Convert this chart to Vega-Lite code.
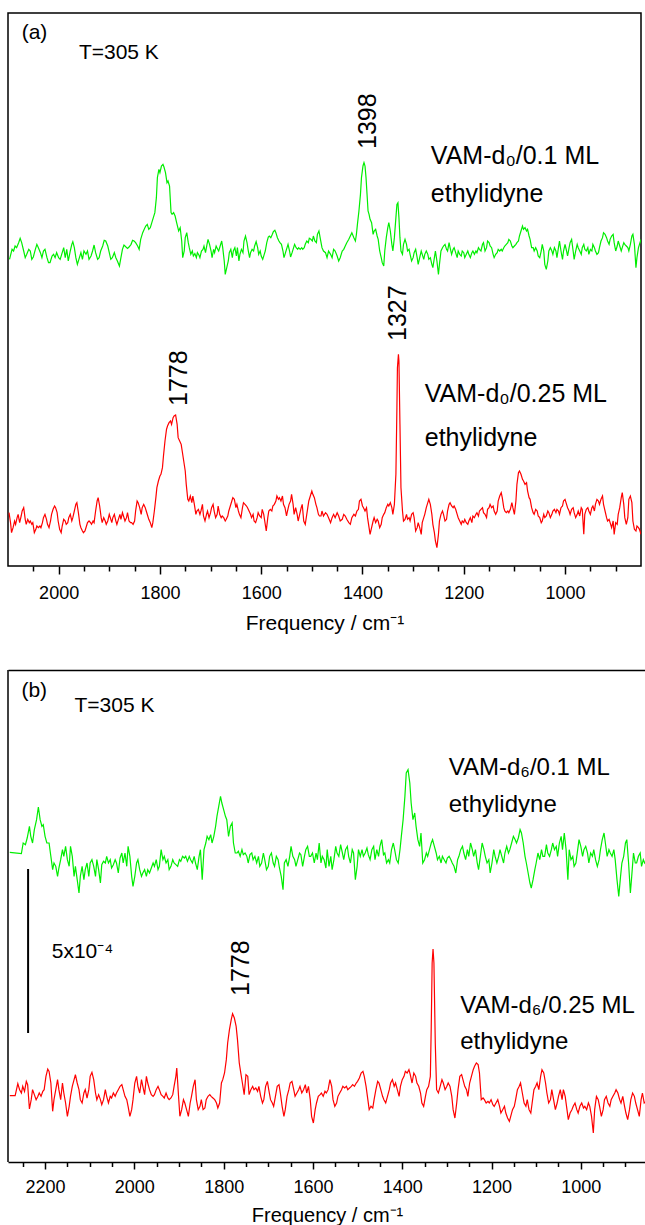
{
"$schema":"https://vega.github.io/schema/vega-lite/v6.json",
"padding":{"left":7,"top":12,"right":0,"bottom":0},
"config":{"view":{"stroke":"#000","strokeWidth":1.5},"text":{"font":"Liberation Sans","color":"#000"},"axis":{"labelFont":"Liberation Sans","titleFont":"Liberation Sans","labelColor":"#000","titleColor":"#000","tickColor":"#000","domainColor":"#000"}},
"datasets":{
"a":[
{"s":"g","f":2097,"v":920},{"s":"g","f":2092,"v":950},{"s":"g","f":2089,"v":945},{"s":"g","f":2086,"v":960},{"s":"g","f":2083,"v":955},{"s":"g","f":2079,"v":970},{"s":"g","f":2076,"v":983},{"s":"g","f":2073,"v":970},{"s":"g","f":2069,"v":945},{"s":"g","f":2066,"v":925},{"s":"g","f":2063,"v":935},{"s":"g","f":2059,"v":950},{"s":"g","f":2056,"v":945},{"s":"g","f":2053,"v":920},{"s":"g","f":2050,"v":927},{"s":"g","f":2046,"v":950},{"s":"g","f":2043,"v":965},{"s":"g","f":2040,"v":955},{"s":"g","f":2036,"v":940},{"s":"g","f":2033,"v":925},{"s":"g","f":2030,"v":945},{"s":"g","f":2027,"v":950},{"s":"g","f":2023,"v":925},{"s":"g","f":2020,"v":910},{"s":"g","f":2017,"v":910},{"s":"g","f":2013,"v":930},{"s":"g","f":2010,"v":935},{"s":"g","f":2007,"v":925},{"s":"g","f":2004,"v":940},{"s":"g","f":2000,"v":925},{"s":"g","f":1997,"v":920},{"s":"g","f":1994,"v":935},{"s":"g","f":1990,"v":955},{"s":"g","f":1987,"v":925},{"s":"g","f":1984,"v":950},{"s":"g","f":1981,"v":915},{"s":"g","f":1977,"v":945},{"s":"g","f":1974,"v":965},{"s":"g","f":1972,"v":973},{"s":"g","f":1969,"v":955},{"s":"g","f":1966,"v":925},{"s":"g","f":1963,"v":905},{"s":"g","f":1959,"v":925},{"s":"g","f":1956,"v":940},{"s":"g","f":1953,"v":920},{"s":"g","f":1950,"v":945},{"s":"g","f":1946,"v":935},{"s":"g","f":1943,"v":945},{"s":"g","f":1940,"v":920},{"s":"g","f":1936,"v":930},{"s":"g","f":1933,"v":945},{"s":"g","f":1930,"v":963},{"s":"g","f":1927,"v":940},{"s":"g","f":1923,"v":920},{"s":"g","f":1920,"v":925},{"s":"g","f":1917,"v":945},{"s":"g","f":1913,"v":960},{"s":"g","f":1910,"v":977},{"s":"g","f":1907,"v":975},{"s":"g","f":1903,"v":960},{"s":"g","f":1900,"v":940},{"s":"g","f":1897,"v":920},{"s":"g","f":1894,"v":925},{"s":"g","f":1890,"v":940},{"s":"g","f":1887,"v":925},{"s":"g","f":1884,"v":915},{"s":"g","f":1880,"v":900},{"s":"g","f":1877,"v":925},{"s":"g","f":1874,"v":950},{"s":"g","f":1871,"v":963},{"s":"g","f":1867,"v":957},{"s":"g","f":1864,"v":953},{"s":"g","f":1861,"v":957},{"s":"g","f":1857,"v":965},{"s":"g","f":1854,"v":977},{"s":"g","f":1851,"v":975},{"s":"g","f":1848,"v":970},{"s":"g","f":1844,"v":960},{"s":"g","f":1841,"v":950},{"s":"g","f":1838,"v":980},{"s":"g","f":1834,"v":1000},{"s":"g","f":1831,"v":1010},{"s":"g","f":1828,"v":1020},{"s":"g","f":1825,"v":1025},{"s":"g","f":1822,"v":1010},{"s":"g","f":1819,"v":1015},{"s":"g","f":1816,"v":1030},{"s":"g","f":1813,"v":1045},{"s":"g","f":1810,"v":1060},{"s":"g","f":1807,"v":1105},{"s":"g","f":1805,"v":1165},{"s":"g","f":1802,"v":1190},{"s":"g","f":1800,"v":1180},{"s":"g","f":1797,"v":1200},{"s":"g","f":1794,"v":1205},{"s":"g","f":1792,"v":1197},{"s":"g","f":1789,"v":1180},{"s":"g","f":1786,"v":1150},{"s":"g","f":1784,"v":1155},{"s":"g","f":1781,"v":1140},{"s":"g","f":1778,"v":1060},{"s":"g","f":1776,"v":1055},{"s":"g","f":1773,"v":1060},{"s":"g","f":1770,"v":1050},{"s":"g","f":1767,"v":1030},{"s":"g","f":1763,"v":1005},{"s":"g","f":1760,"v":1015},{"s":"g","f":1757,"v":975},{"s":"g","f":1755,"v":925},{"s":"g","f":1752,"v":945},{"s":"g","f":1750,"v":985},{"s":"g","f":1747,"v":1000},{"s":"g","f":1744,"v":970},{"s":"g","f":1742,"v":955},{"s":"g","f":1739,"v":935},{"s":"g","f":1736,"v":945},{"s":"g","f":1734,"v":930},{"s":"g","f":1731,"v":937},{"s":"g","f":1728,"v":925},{"s":"g","f":1726,"v":940},{"s":"g","f":1723,"v":933},{"s":"g","f":1721,"v":925},{"s":"g","f":1718,"v":945},{"s":"g","f":1715,"v":950},{"s":"g","f":1713,"v":960},{"s":"g","f":1710,"v":940},{"s":"g","f":1707,"v":965},{"s":"g","f":1705,"v":980},{"s":"g","f":1702,"v":965},{"s":"g","f":1699,"v":945},{"s":"g","f":1697,"v":925},{"s":"g","f":1694,"v":950},{"s":"g","f":1692,"v":940},{"s":"g","f":1689,"v":960},{"s":"g","f":1686,"v":950},{"s":"g","f":1684,"v":945},{"s":"g","f":1681,"v":960},{"s":"g","f":1678,"v":975},{"s":"g","f":1676,"v":955},{"s":"g","f":1673,"v":915},{"s":"g","f":1671,"v":875},{"s":"g","f":1668,"v":895},{"s":"g","f":1665,"v":915},{"s":"g","f":1663,"v":940},{"s":"g","f":1660,"v":950},{"s":"g","f":1657,"v":925},{"s":"g","f":1655,"v":945},{"s":"g","f":1652,"v":955},{"s":"g","f":1649,"v":930},{"s":"g","f":1647,"v":955},{"s":"g","f":1644,"v":915},{"s":"g","f":1642,"v":935},{"s":"g","f":1639,"v":950},{"s":"g","f":1636,"v":940},{"s":"g","f":1634,"v":975},{"s":"g","f":1631,"v":990},{"s":"g","f":1628,"v":970},{"s":"g","f":1626,"v":950},{"s":"g","f":1623,"v":925},{"s":"g","f":1621,"v":940},{"s":"g","f":1618,"v":950},{"s":"g","f":1615,"v":945},{"s":"g","f":1613,"v":960},{"s":"g","f":1610,"v":973},{"s":"g","f":1607,"v":955},{"s":"g","f":1605,"v":935},{"s":"g","f":1602,"v":945},{"s":"g","f":1600,"v":930},{"s":"g","f":1597,"v":920},{"s":"g","f":1594,"v":935},{"s":"g","f":1592,"v":945},{"s":"g","f":1589,"v":970},{"s":"g","f":1586,"v":987},{"s":"g","f":1584,"v":990},{"s":"g","f":1581,"v":985},{"s":"g","f":1578,"v":995},{"s":"g","f":1576,"v":1003},{"s":"g","f":1573,"v":1007},{"s":"g","f":1571,"v":1000},{"s":"g","f":1568,"v":985},{"s":"g","f":1565,"v":975},{"s":"g","f":1563,"v":970},{"s":"g","f":1560,"v":965},{"s":"g","f":1557,"v":945},{"s":"g","f":1555,"v":925},{"s":"g","f":1552,"v":940},{"s":"g","f":1549,"v":955},{"s":"g","f":1547,"v":965},{"s":"g","f":1544,"v":945},{"s":"g","f":1542,"v":927},{"s":"g","f":1539,"v":940},{"s":"g","f":1536,"v":955},{"s":"g","f":1534,"v":965},{"s":"g","f":1531,"v":955},{"s":"g","f":1528,"v":950},{"s":"g","f":1526,"v":955},{"s":"g","f":1523,"v":950},{"s":"g","f":1520,"v":955},{"s":"g","f":1518,"v":950},{"s":"g","f":1515,"v":955},{"s":"g","f":1513,"v":965},{"s":"g","f":1510,"v":975},{"s":"g","f":1507,"v":970},{"s":"g","f":1505,"v":983},{"s":"g","f":1502,"v":980},{"s":"g","f":1499,"v":975},{"s":"g","f":1497,"v":990},{"s":"g","f":1494,"v":975},{"s":"g","f":1491,"v":970},{"s":"g","f":1489,"v":995},{"s":"g","f":1486,"v":1005},{"s":"g","f":1483,"v":980},
{"s":"g","f":1480,"v":955},{"s":"g","f":1477,"v":945},{"s":"g","f":1473,"v":940},{"s":"g","f":1470,"v":925},{"s":"g","f":1467,"v":945},{"s":"g","f":1463,"v":935},{"s":"g","f":1460,"v":925},{"s":"g","f":1457,"v":950},{"s":"g","f":1454,"v":945},{"s":"g","f":1450,"v":930},{"s":"g","f":1447,"v":915},{"s":"g","f":1444,"v":925},{"s":"g","f":1440,"v":945},{"s":"g","f":1437,"v":950},{"s":"g","f":1434,"v":960},{"s":"g","f":1431,"v":970},{"s":"g","f":1427,"v":980},{"s":"g","f":1424,"v":990},{"s":"g","f":1421,"v":1000},{"s":"g","f":1417,"v":985},{"s":"g","f":1414,"v":975},{"s":"g","f":1412,"v":995},{"s":"g","f":1410,"v":1025},{"s":"g","f":1407,"v":1065},{"s":"g","f":1404,"v":1115},{"s":"g","f":1402,"v":1165},{"s":"g","f":1399,"v":1200},{"s":"g","f":1397,"v":1210},{"s":"g","f":1395,"v":1200},{"s":"g","f":1393,"v":1165},{"s":"g","f":1391,"v":1115},{"s":"g","f":1389,"v":1065},{"s":"g","f":1387,"v":1055},{"s":"g","f":1385,"v":1040},{"s":"g","f":1382,"v":1030},{"s":"g","f":1379,"v":995},{"s":"g","f":1377,"v":1005},{"s":"g","f":1374,"v":1010},{"s":"g","f":1371,"v":990},{"s":"g","f":1369,"v":980},{"s":"g","f":1366,"v":945},{"s":"g","f":1363,"v":925},{"s":"g","f":1361,"v":910},{"s":"g","f":1358,"v":900},{"s":"g","f":1356,"v":945},{"s":"g","f":1353,"v":985},{"s":"g","f":1350,"v":1015},{"s":"g","f":1348,"v":1030},{"s":"g","f":1345,"v":1005},{"s":"g","f":1342,"v":965},{"s":"g","f":1340,"v":945},{"s":"g","f":1337,"v":985},{"s":"g","f":1334,"v":1045},{"s":"g","f":1332,"v":1085},{"s":"g","f":1330,"v":1090},{"s":"g","f":1328,"v":1045},{"s":"g","f":1326,"v":985},{"s":"g","f":1324,"v":945},{"s":"g","f":1321,"v":935},{"s":"g","f":1319,"v":965},{"s":"g","f":1316,"v":980},{"s":"g","f":1313,"v":965},{"s":"g","f":1311,"v":945},{"s":"g","f":1308,"v":950},{"s":"g","f":1306,"v":935},{"s":"g","f":1303,"v":915},{"s":"g","f":1300,"v":925},{"s":"g","f":1298,"v":940},{"s":"g","f":1295,"v":950},{"s":"g","f":1292,"v":925},{"s":"g","f":1290,"v":905},{"s":"g","f":1287,"v":925},{"s":"g","f":1284,"v":945},{"s":"g","f":1282,"v":935},{"s":"g","f":1279,"v":920},{"s":"g","f":1277,"v":935},{"s":"g","f":1274,"v":945},{"s":"g","f":1271,"v":935},{"s":"g","f":1269,"v":920},{"s":"g","f":1266,"v":925},{"s":"g","f":1263,"v":905},{"s":"g","f":1261,"v":895},{"s":"g","f":1258,"v":925},{"s":"g","f":1256,"v":945},{"s":"g","f":1253,"v":915},{"s":"g","f":1250,"v":875},{"s":"g","f":1248,"v":905},{"s":"g","f":1245,"v":945},{"s":"g","f":1242,"v":955},{"s":"g","f":1240,"v":960},{"s":"g","f":1237,"v":965},{"s":"g","f":1234,"v":950},{"s":"g","f":1232,"v":945},{"s":"g","f":1229,"v":970},{"s":"g","f":1227,"v":955},{"s":"g","f":1224,"v":935},{"s":"g","f":1221,"v":950},{"s":"g","f":1219,"v":955},{"s":"g","f":1216,"v":940},{"s":"g","f":1213,"v":925},{"s":"g","f":1211,"v":945},{"s":"g","f":1208,"v":935},{"s":"g","f":1205,"v":930},{"s":"g","f":1203,"v":945},{"s":"g","f":1200,"v":940},{"s":"g","f":1198,"v":925},{"s":"g","f":1195,"v":935},{"s":"g","f":1192,"v":945},{"s":"g","f":1190,"v":935},{"s":"g","f":1187,"v":925},{"s":"g","f":1184,"v":940},{"s":"g","f":1182,"v":945},{"s":"g","f":1179,"v":935},{"s":"g","f":1176,"v":945},{"s":"g","f":1174,"v":940},{"s":"g","f":1171,"v":955},{"s":"g","f":1169,"v":950},{"s":"g","f":1166,"v":945},{"s":"g","f":1163,"v":965},{"s":"g","f":1161,"v":970},{"s":"g","f":1158,"v":945},{"s":"g","f":1155,"v":955},{"s":"g","f":1153,"v":975},{"s":"g","f":1150,"v":970},{"s":"g","f":1148,"v":960},{"s":"g","f":1145,"v":955},{"s":"g","f":1142,"v":935},{"s":"g","f":1140,"v":925},{"s":"g","f":1137,"v":935},{"s":"g","f":1134,"v":940},{"s":"g","f":1132,"v":950},{"s":"g","f":1129,"v":945},{"s":"g","f":1126,"v":950},{"s":"g","f":1124,"v":945},{"s":"g","f":1121,"v":955},{"s":"g","f":1119,"v":960},{"s":"g","f":1116,"v":965},{"s":"g","f":1113,"v":970},{"s":"g","f":1111,"v":980},{"s":"g","f":1108,"v":975},{"s":"g","f":1105,"v":960},{"s":"g","f":1103,"v":955},{"s":"g","f":1100,"v":960},{"s":"g","f":1097,"v":965},{"s":"g","f":1095,"v":970},{"s":"g","f":1092,"v":975},{"s":"g","f":1090,"v":990},{"s":"g","f":1087,"v":1005},{"s":"g","f":1084,"v":1020},{"s":"g","f":1082,"v":1010},{"s":"g","f":1079,"v":1015},{"s":"g","f":1076,"v":1005},{"s":"g","f":1074,"v":1010},{"s":"g","f":1071,"v":990},{"s":"g","f":1069,"v":980},{"s":"g","f":1066,"v":955},{"s":"g","f":1063,"v":955},{"s":"g","f":1061,"v":945},{"s":"g","f":1058,"v":955},{"s":"g","f":1055,"v":945},{"s":"g","f":1053,"v":930},{"s":"g","f":1050,"v":925},{"s":"g","f":1047,"v":945},{"s":"g","f":1045,"v":965},{"s":"g","f":1042,"v":945},{"s":"g","f":1040,"v":905},{"s":"g","f":1037,"v":890},{"s":"g","f":1034,"v":915},{"s":"g","f":1032,"v":945},{"s":"g","f":1029,"v":955},{"s":"g","f":1026,"v":945},{"s":"g","f":1024,"v":935},{"s":"g","f":1021,"v":955},{"s":"g","f":1018,"v":945},{"s":"g","f":1016,"v":925},{"s":"g","f":1013,"v":955},{"s":"g","f":1011,"v":975},{"s":"g","f":1008,"v":945},{"s":"g","f":1005,"v":920},{"s":"g","f":1003,"v":945},{"s":"g","f":1000,"v":965},{"s":"g","f":997,"v":945},{"s":"g","f":995,"v":930},{"s":"g","f":992,"v":955},{"s":"g","f":990,"v":970},{"s":"g","f":987,"v":980},{"s":"g","f":984,"v":945},{"s":"g","f":982,"v":920},{"s":"g","f":979,"v":945},{"s":"g","f":976,"v":965},{"s":"g","f":974,"v":955},{"s":"g","f":971,"v":945},{"s":"g","f":968,"v":935},{"s":"g","f":966,"v":955},{"s":"g","f":963,"v":965},{"s":"g","f":961,"v":950},{"s":"g","f":958,"v":945},{"s":"g","f":955,"v":955},{"s":"g","f":953,"v":935},{"s":"g","f":950,"v":950},{"s":"g","f":947,"v":945},{"s":"g","f":945,"v":965},{"s":"g","f":942,"v":955},{"s":"g","f":940,"v":945},{"s":"g","f":937,"v":935},{"s":"g","f":934,"v":940},{"s":"g","f":932,"v":955},{"s":"g","f":929,"v":975},{"s":"g","f":926,"v":985},{"s":"g","f":924,"v":1000},{"s":"g","f":921,"v":995},{"s":"g","f":918,"v":985},{"s":"g","f":916,"v":975},{"s":"g","f":913,"v":965},{"s":"g","f":911,"v":980},{"s":"g","f":908,"v":990},{"s":"g","f":905,"v":995},{"s":"g","f":903,"v":970},{"s":"g","f":900,"v":945},{"s":"g","f":897,"v":960},{"s":"g","f":895,"v":975},{"s":"g","f":892,"v":960},{"s":"g","f":889,"v":945},{"s":"g","f":887,"v":955},{"s":"g","f":884,"v":970},{"s":"g","f":882,"v":965},{"s":"g","f":879,"v":960},{"s":"g","f":876,"v":955},{"s":"g","f":874,"v":945},{"s":"g","f":871,"v":965},{"s":"g","f":868,"v":990},{"s":"g","f":866,"v":995},{"s":"g","f":863,"v":965},{"s":"g","f":860,"v":895},{"s":"g","f":858,"v":925},{"s":"g","f":855,"v":955},{"s":"g","f":853,"v":965},{"s":"g","f":850,"v":980},
{"s":"r","f":2098,"v":160},{"s":"r","f":2095,"v":130},{"s":"r","f":2093,"v":100},{"s":"r","f":2090,"v":115},{"s":"r","f":2087,"v":135},{"s":"r","f":2085,"v":125},{"s":"r","f":2082,"v":145},{"s":"r","f":2080,"v":155},{"s":"r","f":2077,"v":130},{"s":"r","f":2074,"v":150},{"s":"r","f":2072,"v":165},{"s":"r","f":2069,"v":175},{"s":"r","f":2066,"v":140},{"s":"r","f":2064,"v":125},{"s":"r","f":2061,"v":140},{"s":"r","f":2058,"v":130},{"s":"r","f":2056,"v":135},{"s":"r","f":2053,"v":125},{"s":"r","f":2051,"v":130},{"s":"r","f":2048,"v":100},{"s":"r","f":2045,"v":110},{"s":"r","f":2043,"v":120},{"s":"r","f":2040,"v":115},{"s":"r","f":2037,"v":120},{"s":"r","f":2035,"v":115},{"s":"r","f":2032,"v":130},{"s":"r","f":2030,"v":145},{"s":"r","f":2027,"v":155},{"s":"r","f":2024,"v":140},{"s":"r","f":2022,"v":125},{"s":"r","f":2019,"v":115},{"s":"r","f":2016,"v":135},{"s":"r","f":2014,"v":155},{"s":"r","f":2011,"v":170},{"s":"r","f":2008,"v":180},{"s":"r","f":2006,"v":175},{"s":"r","f":2003,"v":160},{"s":"r","f":2001,"v":135},{"s":"r","f":1998,"v":110},{"s":"r","f":1995,"v":100},{"s":"r","f":1993,"v":120},{"s":"r","f":1990,"v":140},{"s":"r","f":1987,"v":135},{"s":"r","f":1985,"v":125},{"s":"r","f":1982,"v":130},{"s":"r","f":1980,"v":145},{"s":"r","f":1977,"v":155},{"s":"r","f":1974,"v":135},{"s":"r","f":1972,"v":145},{"s":"r","f":1969,"v":165},{"s":"r","f":1966,"v":185},{"s":"r","f":1964,"v":190},{"s":"r","f":1961,"v":160},{"s":"r","f":1958,"v":125},{"s":"r","f":1956,"v":115},{"s":"r","f":1953,"v":105},{"s":"r","f":1951,"v":100},{"s":"r","f":1948,"v":105},{"s":"r","f":1945,"v":120},{"s":"r","f":1943,"v":130},{"s":"r","f":1940,"v":135},{"s":"r","f":1937,"v":130},{"s":"r","f":1935,"v":125},{"s":"r","f":1932,"v":135},{"s":"r","f":1930,"v":130},{"s":"r","f":1927,"v":165},{"s":"r","f":1924,"v":195},{"s":"r","f":1922,"v":205},{"s":"r","f":1919,"v":180},{"s":"r","f":1916,"v":145},{"s":"r","f":1914,"v":130},{"s":"r","f":1911,"v":145},{"s":"r","f":1908,"v":135},{"s":"r","f":1906,"v":125},{"s":"r","f":1903,"v":135},{"s":"r","f":1900,"v":155},{"s":"r","f":1898,"v":145},{"s":"r","f":1895,"v":130},{"s":"r","f":1893,"v":145},{"s":"r","f":1890,"v":155},{"s":"r","f":1887,"v":135},{"s":"r","f":1885,"v":125},{"s":"r","f":1882,"v":140},{"s":"r","f":1879,"v":155},{"s":"r","f":1877,"v":140},{"s":"r","f":1874,"v":160},{"s":"r","f":1872,"v":150},{"s":"r","f":1869,"v":135},{"s":"r","f":1866,"v":145},{"s":"r","f":1864,"v":160},{"s":"r","f":1861,"v":135},{"s":"r","f":1858,"v":130},{"s":"r","f":1856,"v":130},{"s":"r","f":1853,"v":125},{"s":"r","f":1850,"v":135},{"s":"r","f":1848,"v":165},{"s":"r","f":1845,"v":195},{"s":"r","f":1843,"v":190},{"s":"r","f":1840,"v":175},{"s":"r","f":1837,"v":155},{"s":"r","f":1835,"v":175},{"s":"r","f":1832,"v":185},{"s":"r","f":1829,"v":175},{"s":"r","f":1827,"v":165},{"s":"r","f":1824,"v":150},{"s":"r","f":1822,"v":140},{"s":"r","f":1819,"v":130},{"s":"r","f":1816,"v":115},{"s":"r","f":1814,"v":130},{"s":"r","f":1811,"v":165},{"s":"r","f":1808,"v":205},{"s":"r","f":1806,"v":235},{"s":"r","f":1803,"v":255},{"s":"r","f":1800,"v":270},{"s":"r","f":1798,"v":275},{"s":"r","f":1795,"v":295},{"s":"r","f":1793,"v":330},{"s":"r","f":1790,"v":375},{"s":"r","f":1787,"v":410},{"s":"r","f":1785,"v":420},{"s":"r","f":1782,"v":430},{"s":"r","f":1779,"v":435},{"s":"r","f":1777,"v":425},{"s":"r","f":1774,"v":445},{"s":"r","f":1772,"v":450},{"s":"r","f":1769,"v":453},{"s":"r","f":1766,"v":425},{"s":"r","f":1764,"v":385},{"s":"r","f":1761,"v":375},{"s":"r","f":1758,"v":365},{"s":"r","f":1756,"v":345},{"s":"r","f":1753,"v":315},{"s":"r","f":1750,"v":285},{"s":"r","f":1748,"v":245},{"s":"r","f":1745,"v":200},{"s":"r","f":1743,"v":195},{"s":"r","f":1740,"v":210},{"s":"r","f":1737,"v":190},{"s":"r","f":1735,"v":210},{"s":"r","f":1732,"v":185},{"s":"r","f":1729,"v":155},{"s":"r","f":1727,"v":165},{"s":"r","f":1724,"v":170},{"s":"r","f":1721,"v":155},{"s":"r","f":1719,"v":165},{"s":"r","f":1716,"v":185},{"s":"r","f":1714,"v":150},{"s":"r","f":1711,"v":135},{"s":"r","f":1708,"v":155},{"s":"r","f":1706,"v":165},{"s":"r","f":1703,"v":145},{"s":"r","f":1700,"v":160},{"s":"r","f":1698,"v":175},{"s":"r","f":1695,"v":185},{"s":"r","f":1693,"v":165},{"s":"r","f":1690,"v":145},{"s":"r","f":1687,"v":155},{"s":"r","f":1685,"v":180},{"s":"r","f":1682,"v":155},{"s":"r","f":1679,"v":145},{"s":"r","f":1677,"v":150},{"s":"r","f":1674,"v":145},{"s":"r","f":1671,"v":135},{"s":"r","f":1669,"v":140},{"s":"r","f":1666,"v":150},{"s":"r","f":1664,"v":165},{"s":"r","f":1661,"v":180},{"s":"r","f":1658,"v":195},{"s":"r","f":1656,"v":205},{"s":"r","f":1653,"v":200},{"s":"r","f":1650,"v":175},{"s":"r","f":1648,"v":185},{"s":"r","f":1645,"v":165},{"s":"r","f":1643,"v":155},{"s":"r","f":1640,"v":145},{"s":"r","f":1637,"v":175},{"s":"r","f":1635,"v":190},{"s":"r","f":1632,"v":185},{"s":"r","f":1629,"v":180},{"s":"r","f":1627,"v":175},{"s":"r","f":1624,"v":165},{"s":"r","f":1621,"v":155},{"s":"r","f":1619,"v":145},{"s":"r","f":1616,"v":155},{"s":"r","f":1614,"v":135},{"s":"r","f":1611,"v":130},{"s":"r","f":1608,"v":145},{"s":"r","f":1606,"v":160},{"s":"r","f":1603,"v":150},{"s":"r","f":1600,"v":145},{"s":"r","f":1598,"v":170},{"s":"r","f":1595,"v":155},{"s":"r","f":1592,"v":125},{"s":"r","f":1590,"v":105},{"s":"r","f":1587,"v":145},{"s":"r","f":1585,"v":165},{"s":"r","f":1582,"v":170},{"s":"r","f":1579,"v":165},{"s":"r","f":1577,"v":180},{"s":"r","f":1574,"v":185},{"s":"r","f":1571,"v":195},{"s":"r","f":1569,"v":210},{"s":"r","f":1566,"v":200},{"s":"r","f":1564,"v":205},{"s":"r","f":1561,"v":195},{"s":"r","f":1558,"v":210},{"s":"r","f":1556,"v":185},{"s":"r","f":1553,"v":175},{"s":"r","f":1550,"v":150},{"s":"r","f":1548,"v":165},{"s":"r","f":1545,"v":185},{"s":"r","f":1542,"v":195},{"s":"r","f":1540,"v":215},{"s":"r","f":1537,"v":185},{"s":"r","f":1535,"v":155},{"s":"r","f":1532,"v":175},{"s":"r","f":1529,"v":155},{"s":"r","f":1527,"v":135},{"s":"r","f":1524,"v":155},{"s":"r","f":1521,"v":175},{"s":"r","f":1519,"v":185},{"s":"r","f":1516,"v":135},{"s":"r","f":1513,"v":125},{"s":"r","f":1511,"v":145},{"s":"r","f":1508,"v":175},{"s":"r","f":1506,"v":195},{"s":"r","f":1503,"v":210},{"s":"r","f":1500,"v":225},{"s":"r","f":1498,"v":215},{"s":"r","f":1495,"v":205},{"s":"r","f":1492,"v":185},{"s":"r","f":1490,"v":175},{"s":"r","f":1487,"v":155},{"s":"r","f":1485,"v":150},{"s":"r","f":1482,"v":150},
{"s":"r","f":1480,"v":165},{"s":"r","f":1477,"v":150},{"s":"r","f":1473,"v":160},{"s":"r","f":1470,"v":155},{"s":"r","f":1467,"v":145},{"s":"r","f":1463,"v":130},{"s":"r","f":1460,"v":145},{"s":"r","f":1457,"v":155},{"s":"r","f":1454,"v":145},{"s":"r","f":1450,"v":160},{"s":"r","f":1447,"v":150},{"s":"r","f":1444,"v":135},{"s":"r","f":1440,"v":140},{"s":"r","f":1437,"v":155},{"s":"r","f":1434,"v":150},{"s":"r","f":1431,"v":140},{"s":"r","f":1427,"v":130},{"s":"r","f":1424,"v":125},{"s":"r","f":1421,"v":145},{"s":"r","f":1417,"v":155},{"s":"r","f":1414,"v":150},{"s":"r","f":1411,"v":165},{"s":"r","f":1408,"v":170},{"s":"r","f":1406,"v":195},{"s":"r","f":1403,"v":200},{"s":"r","f":1400,"v":180},{"s":"r","f":1398,"v":175},{"s":"r","f":1395,"v":165},{"s":"r","f":1392,"v":175},{"s":"r","f":1390,"v":145},{"s":"r","f":1387,"v":115},{"s":"r","f":1385,"v":95},{"s":"r","f":1382,"v":115},{"s":"r","f":1379,"v":135},{"s":"r","f":1377,"v":145},{"s":"r","f":1374,"v":130},{"s":"r","f":1371,"v":140},{"s":"r","f":1369,"v":135},{"s":"r","f":1366,"v":115},{"s":"r","f":1363,"v":125},{"s":"r","f":1361,"v":145},{"s":"r","f":1358,"v":155},{"s":"r","f":1356,"v":160},{"s":"r","f":1353,"v":175},{"s":"r","f":1350,"v":185},{"s":"r","f":1348,"v":180},{"s":"r","f":1345,"v":190},{"s":"r","f":1342,"v":175},{"s":"r","f":1340,"v":155},{"s":"r","f":1337,"v":185},{"s":"r","f":1334,"v":275},{"s":"r","f":1332,"v":475},{"s":"r","f":1331,"v":595},{"s":"r","f":1329,"v":635},{"s":"r","f":1328,"v":615},{"s":"r","f":1326,"v":425},{"s":"r","f":1324,"v":235},{"s":"r","f":1321,"v":165},{"s":"r","f":1319,"v":135},{"s":"r","f":1316,"v":140},{"s":"r","f":1313,"v":155},{"s":"r","f":1311,"v":140},{"s":"r","f":1308,"v":145},{"s":"r","f":1306,"v":135},{"s":"r","f":1303,"v":155},{"s":"r","f":1300,"v":160},{"s":"r","f":1298,"v":145},{"s":"r","f":1295,"v":105},{"s":"r","f":1292,"v":115},{"s":"r","f":1290,"v":130},{"s":"r","f":1287,"v":115},{"s":"r","f":1284,"v":95},{"s":"r","f":1282,"v":130},{"s":"r","f":1279,"v":145},{"s":"r","f":1277,"v":155},{"s":"r","f":1274,"v":175},{"s":"r","f":1271,"v":190},{"s":"r","f":1269,"v":200},{"s":"r","f":1266,"v":185},{"s":"r","f":1263,"v":155},{"s":"r","f":1261,"v":125},{"s":"r","f":1258,"v":100},{"s":"r","f":1256,"v":75},{"s":"r","f":1253,"v":55},{"s":"r","f":1250,"v":95},{"s":"r","f":1248,"v":135},{"s":"r","f":1245,"v":155},{"s":"r","f":1242,"v":165},{"s":"r","f":1240,"v":155},{"s":"r","f":1237,"v":135},{"s":"r","f":1234,"v":140},{"s":"r","f":1232,"v":165},{"s":"r","f":1229,"v":185},{"s":"r","f":1227,"v":190},{"s":"r","f":1224,"v":180},{"s":"r","f":1221,"v":175},{"s":"r","f":1219,"v":180},{"s":"r","f":1216,"v":170},{"s":"r","f":1213,"v":155},{"s":"r","f":1211,"v":145},{"s":"r","f":1208,"v":135},{"s":"r","f":1205,"v":125},{"s":"r","f":1203,"v":135},{"s":"r","f":1200,"v":130},{"s":"r","f":1198,"v":140},{"s":"r","f":1195,"v":130},{"s":"r","f":1192,"v":125},{"s":"r","f":1190,"v":135},{"s":"r","f":1187,"v":145},{"s":"r","f":1184,"v":130},{"s":"r","f":1182,"v":150},{"s":"r","f":1179,"v":145},{"s":"r","f":1176,"v":155},{"s":"r","f":1174,"v":160},{"s":"r","f":1171,"v":150},{"s":"r","f":1169,"v":165},{"s":"r","f":1166,"v":170},{"s":"r","f":1163,"v":175},{"s":"r","f":1161,"v":160},{"s":"r","f":1158,"v":155},{"s":"r","f":1155,"v":145},{"s":"r","f":1153,"v":170},{"s":"r","f":1150,"v":175},{"s":"r","f":1148,"v":185},{"s":"r","f":1145,"v":175},{"s":"r","f":1142,"v":180},{"s":"r","f":1140,"v":165},{"s":"r","f":1137,"v":155},{"s":"r","f":1134,"v":165},{"s":"r","f":1132,"v":195},{"s":"r","f":1129,"v":210},{"s":"r","f":1126,"v":220},{"s":"r","f":1124,"v":205},{"s":"r","f":1121,"v":175},{"s":"r","f":1119,"v":165},{"s":"r","f":1116,"v":160},{"s":"r","f":1113,"v":165},{"s":"r","f":1111,"v":160},{"s":"r","f":1108,"v":170},{"s":"r","f":1105,"v":190},{"s":"r","f":1103,"v":175},{"s":"r","f":1100,"v":155},{"s":"r","f":1097,"v":195},{"s":"r","f":1095,"v":245},{"s":"r","f":1092,"v":280},{"s":"r","f":1090,"v":285},{"s":"r","f":1087,"v":275},{"s":"r","f":1084,"v":260},{"s":"r","f":1082,"v":255},{"s":"r","f":1079,"v":245},{"s":"r","f":1076,"v":250},{"s":"r","f":1074,"v":225},{"s":"r","f":1071,"v":205},{"s":"r","f":1069,"v":200},{"s":"r","f":1066,"v":175},{"s":"r","f":1063,"v":160},{"s":"r","f":1061,"v":155},{"s":"r","f":1058,"v":170},{"s":"r","f":1055,"v":165},{"s":"r","f":1053,"v":150},{"s":"r","f":1050,"v":145},{"s":"r","f":1047,"v":130},{"s":"r","f":1045,"v":135},{"s":"r","f":1042,"v":155},{"s":"r","f":1040,"v":145},{"s":"r","f":1037,"v":150},{"s":"r","f":1034,"v":165},{"s":"r","f":1032,"v":160},{"s":"r","f":1029,"v":145},{"s":"r","f":1026,"v":155},{"s":"r","f":1024,"v":165},{"s":"r","f":1021,"v":170},{"s":"r","f":1018,"v":160},{"s":"r","f":1016,"v":170},{"s":"r","f":1013,"v":165},{"s":"r","f":1011,"v":155},{"s":"r","f":1008,"v":175},{"s":"r","f":1005,"v":180},{"s":"r","f":1003,"v":195},{"s":"r","f":1000,"v":200},{"s":"r","f":997,"v":185},{"s":"r","f":995,"v":175},{"s":"r","f":992,"v":165},{"s":"r","f":990,"v":155},{"s":"r","f":987,"v":170},{"s":"r","f":984,"v":175},{"s":"r","f":982,"v":160},{"s":"r","f":979,"v":145},{"s":"r","f":976,"v":155},{"s":"r","f":974,"v":165},{"s":"r","f":971,"v":150},{"s":"r","f":968,"v":175},{"s":"r","f":966,"v":170},{"s":"r","f":963,"v":95},{"s":"r","f":961,"v":155},{"s":"r","f":958,"v":170},{"s":"r","f":955,"v":175},{"s":"r","f":953,"v":165},{"s":"r","f":950,"v":155},{"s":"r","f":947,"v":175},{"s":"r","f":945,"v":180},{"s":"r","f":942,"v":165},{"s":"r","f":940,"v":185},{"s":"r","f":937,"v":200},{"s":"r","f":934,"v":195},{"s":"r","f":932,"v":185},{"s":"r","f":929,"v":200},{"s":"r","f":926,"v":210},{"s":"r","f":924,"v":185},{"s":"r","f":921,"v":165},{"s":"r","f":918,"v":145},{"s":"r","f":916,"v":135},{"s":"r","f":913,"v":140},{"s":"r","f":911,"v":130},{"s":"r","f":908,"v":115},{"s":"r","f":905,"v":135},{"s":"r","f":903,"v":95},{"s":"r","f":900,"v":130},{"s":"r","f":897,"v":125},{"s":"r","f":895,"v":155},{"s":"r","f":892,"v":175},{"s":"r","f":889,"v":205},{"s":"r","f":887,"v":220},{"s":"r","f":884,"v":185},{"s":"r","f":882,"v":145},{"s":"r","f":879,"v":125},{"s":"r","f":876,"v":145},{"s":"r","f":874,"v":200},{"s":"r","f":871,"v":210},{"s":"r","f":868,"v":190},{"s":"r","f":866,"v":135},{"s":"r","f":863,"v":110},{"s":"r","f":860,"v":105},{"s":"r","f":858,"v":120},{"s":"r","f":855,"v":115},{"s":"r","f":853,"v":110},{"s":"r","f":850,"v":95}
],
"b":[
{"s":"g","f":2279,"v":929},{"s":"g","f":2253,"v":925},{"s":"g","f":2249,"v":957},{"s":"g","f":2244,"v":952},{"s":"g","f":2240,"v":972},{"s":"g","f":2235,"v":1007},{"s":"g","f":2232,"v":977},{"s":"g","f":2228,"v":957},{"s":"g","f":2224,"v":997},{"s":"g","f":2219,"v":1027},{"s":"g","f":2215,"v":1065},{"s":"g","f":2211,"v":1027},{"s":"g","f":2207,"v":1007},{"s":"g","f":2204,"v":1012},{"s":"g","f":2200,"v":977},{"s":"g","f":2196,"v":957},{"s":"g","f":2191,"v":957},{"s":"g","f":2187,"v":917},{"s":"g","f":2183,"v":877},{"s":"g","f":2180,"v":897},{"s":"g","f":2176,"v":887},{"s":"g","f":2172,"v":857},{"s":"g","f":2169,"v":882},{"s":"g","f":2165,"v":907},{"s":"g","f":2161,"v":937},{"s":"g","f":2158,"v":917},{"s":"g","f":2154,"v":947},{"s":"g","f":2150,"v":907},{"s":"g","f":2146,"v":887},{"s":"g","f":2143,"v":947},{"s":"g","f":2139,"v":917},{"s":"g","f":2135,"v":857},{"s":"g","f":2132,"v":887},{"s":"g","f":2128,"v":847},{"s":"g","f":2124,"v":807},{"s":"g","f":2121,"v":857},{"s":"g","f":2117,"v":887},{"s":"g","f":2113,"v":847},{"s":"g","f":2110,"v":877},{"s":"g","f":2106,"v":897},{"s":"g","f":2102,"v":857},{"s":"g","f":2099,"v":897},{"s":"g","f":2095,"v":907},{"s":"g","f":2091,"v":887},{"s":"g","f":2087,"v":857},{"s":"g","f":2084,"v":907},{"s":"g","f":2080,"v":877},{"s":"g","f":2076,"v":837},{"s":"g","f":2073,"v":892},{"s":"g","f":2069,"v":902},{"s":"g","f":2065,"v":897},{"s":"g","f":2062,"v":917},{"s":"g","f":2058,"v":897},{"s":"g","f":2054,"v":907},{"s":"g","f":2051,"v":882},{"s":"g","f":2047,"v":892},{"s":"g","f":2043,"v":907},{"s":"g","f":2040,"v":897},{"s":"g","f":2036,"v":867},{"s":"g","f":2032,"v":912},{"s":"g","f":2028,"v":927},{"s":"g","f":2025,"v":897},{"s":"g","f":2021,"v":927},{"s":"g","f":2017,"v":887},{"s":"g","f":2014,"v":947},{"s":"g","f":2010,"v":917},{"s":"g","f":2006,"v":857},{"s":"g","f":2003,"v":827},{"s":"g","f":1999,"v":857},{"s":"g","f":1995,"v":897},{"s":"g","f":1992,"v":907},{"s":"g","f":1988,"v":877},{"s":"g","f":1984,"v":857},{"s":"g","f":1981,"v":867},{"s":"g","f":1977,"v":877},{"s":"g","f":1973,"v":857},{"s":"g","f":1970,"v":877},{"s":"g","f":1966,"v":867},{"s":"g","f":1962,"v":882},{"s":"g","f":1958,"v":897},{"s":"g","f":1955,"v":887},{"s":"g","f":1951,"v":907},{"s":"g","f":1947,"v":877},{"s":"g","f":1944,"v":887},{"s":"g","f":1940,"v":937},{"s":"g","f":1936,"v":907},{"s":"g","f":1933,"v":917},{"s":"g","f":1929,"v":897},{"s":"g","f":1925,"v":907},{"s":"g","f":1922,"v":877},{"s":"g","f":1918,"v":887},{"s":"g","f":1914,"v":907},{"s":"g","f":1911,"v":897},{"s":"g","f":1907,"v":892},{"s":"g","f":1903,"v":887},{"s":"g","f":1899,"v":907},{"s":"g","f":1896,"v":902},{"s":"g","f":1892,"v":917},{"s":"g","f":1888,"v":912},{"s":"g","f":1885,"v":917},{"s":"g","f":1881,"v":902},{"s":"g","f":1877,"v":917},{"s":"g","f":1874,"v":907},{"s":"g","f":1870,"v":897},{"s":"g","f":1866,"v":917},{"s":"g","f":1863,"v":897},{"s":"g","f":1859,"v":877},{"s":"g","f":1855,"v":917},{"s":"g","f":1852,"v":937},{"s":"g","f":1848,"v":847},{"s":"g","f":1844,"v":937},{"s":"g","f":1840,"v":957},{"s":"g","f":1837,"v":977},{"s":"g","f":1833,"v":967},{"s":"g","f":1829,"v":982},{"s":"g","f":1826,"v":957},{"s":"g","f":1822,"v":977},{"s":"g","f":1818,"v":1007},{"s":"g","f":1815,"v":1037},{"s":"g","f":1811,"v":1067},{"s":"g","f":1807,"v":1097},{"s":"g","f":1804,"v":1077},{"s":"g","f":1800,"v":1057},{"s":"g","f":1796,"v":1037},{"s":"g","f":1793,"v":1027},{"s":"g","f":1789,"v":977},{"s":"g","f":1785,"v":1007},{"s":"g","f":1781,"v":1017},{"s":"g","f":1778,"v":957},{"s":"g","f":1774,"v":927},{"s":"g","f":1770,"v":927},{"s":"g","f":1767,"v":932},{"s":"g","f":1763,"v":917},{"s":"g","f":1759,"v":937},{"s":"g","f":1756,"v":922},{"s":"g","f":1752,"v":927},{"s":"g","f":1748,"v":917},{"s":"g","f":1745,"v":897},{"s":"g","f":1741,"v":922},{"s":"g","f":1737,"v":927},{"s":"g","f":1734,"v":907},{"s":"g","f":1730,"v":917},{"s":"g","f":1726,"v":897},{"s":"g","f":1722,"v":917},{"s":"g","f":1719,"v":887},{"s":"g","f":1715,"v":897},{"s":"g","f":1711,"v":927},{"s":"g","f":1708,"v":907},{"s":"g","f":1704,"v":877},{"s":"g","f":1700,"v":887},{"s":"g","f":1697,"v":917},{"s":"g","f":1693,"v":927},{"s":"g","f":1689,"v":897},{"s":"g","f":1686,"v":887},{"s":"g","f":1682,"v":917},{"s":"g","f":1678,"v":907},{"s":"g","f":1675,"v":882},{"s":"g","f":1671,"v":857},{"s":"g","f":1667,"v":817},{"s":"g","f":1664,"v":897},{"s":"g","f":1660,"v":907},{"s":"g","f":1656,"v":887},{"s":"g","f":1652,"v":917},{"s":"g","f":1649,"v":947},{"s":"g","f":1645,"v":917},{"s":"g","f":1641,"v":907},{"s":"g","f":1638,"v":887},{"s":"g","f":1634,"v":907},{"s":"g","f":1630,"v":927},{"s":"g","f":1627,"v":922},{"s":"g","f":1623,"v":887},{"s":"g","f":1619,"v":917},{"s":"g","f":1616,"v":937},{"s":"g","f":1612,"v":947},{"s":"g","f":1608,"v":917},{"s":"g","f":1605,"v":917},{"s":"g","f":1601,"v":927},{"s":"g","f":1597,"v":897},{"s":"g","f":1593,"v":927},{"s":"g","f":1590,"v":907},{"s":"g","f":1586,"v":957},{"s":"g","f":1582,"v":897},{"s":"g","f":1579,"v":917},{"s":"g","f":1575,"v":907},{"s":"g","f":1571,"v":882},{"s":"g","f":1568,"v":937},{"s":"g","f":1564,"v":887},{"s":"g","f":1560,"v":917},{"s":"g","f":1557,"v":877},{"s":"g","f":1553,"v":907},{"s":"g","f":1549,"v":947},{"s":"g","f":1546,"v":927},{"s":"g","f":1542,"v":917},{"s":"g","f":1538,"v":952},{"s":"g","f":1534,"v":927},{"s":"g","f":1531,"v":907},{"s":"g","f":1527,"v":937},{"s":"g","f":1523,"v":947},{"s":"g","f":1520,"v":917},{"s":"g","f":1516,"v":897},{"s":"g","f":1512,"v":937},{"s":"g","f":1509,"v":927},{"s":"g","f":1505,"v":847},{"s":"g","f":1501,"v":887},{"s":"g","f":1498,"v":937},{"s":"g","f":1494,"v":917},{"s":"g","f":1490,"v":937},{"s":"g","f":1487,"v":917},{"s":"g","f":1483,"v":927},{"s":"g","f":1479,"v":942},{"s":"g","f":1476,"v":922},{"s":"g","f":1472,"v":907},{"s":"g","f":1468,"v":937},{"s":"g","f":1464,"v":947},{"s":"g","f":1461,"v":907},{"s":"g","f":1457,"v":937},{"s":"g","f":1453,"v":917},{"s":"g","f":1450,"v":947},{"s":"g","f":1446,"v":967},{"s":"g","f":1442,"v":922},{"s":"g","f":1439,"v":927},{"s":"g","f":1435,"v":897},{"s":"g","f":1431,"v":907},{"s":"g","f":1428,"v":897},{"s":"g","f":1424,"v":937},{"s":"g","f":1420,"v":957},{"s":"g","f":1417,"v":937},{"s":"g","f":1413,"v":907},{"s":"g","f":1409,"v":897},{"s":"g","f":1405,"v":937},{"s":"g","f":1402,"v":977},{"s":"g","f":1398,"v":1027},{"s":"g","f":1394,"v":1097},{"s":"g","f":1391,"v":1167},{"s":"g","f":1387,"v":1177},{"s":"g","f":1383,"v":1137},{"s":"g","f":1380,"v":1077},{"s":"g","f":1376,"v":1027},{"s":"g","f":1372,"v":1047},{"s":"g","f":1369,"v":1007},{"s":"g","f":1365,"v":967},{"s":"g","f":1361,"v":947},{"s":"g","f":1358,"v":987},{"s":"g","f":1354,"v":897},{"s":"g","f":1350,"v":907},{"s":"g","f":1346,"v":927},{"s":"g","f":1343,"v":917},{"s":"g","f":1339,"v":937},{"s":"g","f":1335,"v":957},{"s":"g","f":1332,"v":967},{"s":"g","f":1328,"v":947},{"s":"g","f":1324,"v":927},{"s":"g","f":1321,"v":907},{"s":"g","f":1317,"v":917},{"s":"g","f":1313,"v":897},{"s":"g","f":1310,"v":917},{"s":"g","f":1306,"v":907},{"s":"g","f":1302,"v":897},{"s":"g","f":1299,"v":912},{"s":"g","f":1295,"v":917},{"s":"g","f":1291,"v":907},{"s":"g","f":1288,"v":897},{"s":"g","f":1284,"v":887},{"s":"g","f":1280,"v":867},{"s":"g","f":1276,"v":907},{"s":"g","f":1273,"v":917},{"s":"g","f":1269,"v":937},{"s":"g","f":1265,"v":947},{"s":"g","f":1262,"v":927},{"s":"g","f":1258,"v":907},{"s":"g","f":1254,"v":937},{"s":"g","f":1251,"v":917},{"s":"g","f":1247,"v":957},{"s":"g","f":1243,"v":937},{"s":"g","f":1240,"v":917},{"s":"g","f":1236,"v":937},{"s":"g","f":1232,"v":897},{"s":"g","f":1229,"v":877},{"s":"g","f":1225,"v":917},{"s":"g","f":1221,"v":957},{"s":"g","f":1217,"v":937},{"s":"g","f":1214,"v":917},{"s":"g","f":1210,"v":897},{"s":"g","f":1206,"v":907},{"s":"g","f":1203,"v":867},{"s":"g","f":1199,"v":897},{"s":"g","f":1195,"v":937},{"s":"g","f":1192,"v":917},{"s":"g","f":1188,"v":897},{"s":"g","f":1184,"v":917},{"s":"g","f":1181,"v":937},{"s":"g","f":1177,"v":917},{"s":"g","f":1173,"v":897},{"s":"g","f":1170,"v":927},{"s":"g","f":1166,"v":947},{"s":"g","f":1162,"v":927},{"s":"g","f":1159,"v":937},{"s":"g","f":1155,"v":957},{"s":"g","f":1151,"v":977},{"s":"g","f":1147,"v":967},{"s":"g","f":1144,"v":957},{"s":"g","f":1140,"v":972},{"s":"g","f":1136,"v":997},{"s":"g","f":1133,"v":987},{"s":"g","f":1129,"v":957},{"s":"g","f":1125,"v":917},{"s":"g","f":1122,"v":897},{"s":"g","f":1118,"v":867},{"s":"g","f":1114,"v":837},{"s":"g","f":1111,"v":822},{"s":"g","f":1107,"v":847},{"s":"g","f":1103,"v":877},{"s":"g","f":1100,"v":897},{"s":"g","f":1096,"v":927},{"s":"g","f":1092,"v":907},{"s":"g","f":1088,"v":937},{"s":"g","f":1085,"v":917},{"s":"g","f":1081,"v":917},{"s":"g","f":1077,"v":952},{"s":"g","f":1074,"v":927},{"s":"g","f":1070,"v":917},{"s":"g","f":1066,"v":937},{"s":"g","f":1063,"v":957},{"s":"g","f":1059,"v":937},{"s":"g","f":1055,"v":947},{"s":"g","f":1052,"v":917},{"s":"g","f":1048,"v":957},{"s":"g","f":1044,"v":977},{"s":"g","f":1041,"v":937},{"s":"g","f":1037,"v":987},{"s":"g","f":1033,"v":937},{"s":"g","f":1029,"v":847},{"s":"g","f":1026,"v":937},{"s":"g","f":1022,"v":907},{"s":"g","f":1018,"v":917},{"s":"g","f":1015,"v":887},{"s":"g","f":1011,"v":897},{"s":"g","f":1007,"v":937},{"s":"g","f":1004,"v":967},{"s":"g","f":1000,"v":947},{"s":"g","f":996,"v":917},{"s":"g","f":993,"v":937},{"s":"g","f":989,"v":947},{"s":"g","f":985,"v":927},{"s":"g","f":982,"v":897},{"s":"g","f":978,"v":927},{"s":"g","f":974,"v":917},{"s":"g","f":971,"v":937},{"s":"g","f":967,"v":907},{"s":"g","f":963,"v":887},{"s":"g","f":959,"v":907},{"s":"g","f":956,"v":937},{"s":"g","f":952,"v":967},{"s":"g","f":948,"v":987},{"s":"g","f":945,"v":957},{"s":"g","f":941,"v":917},{"s":"g","f":937,"v":937},{"s":"g","f":934,"v":927},{"s":"g","f":930,"v":917},{"s":"g","f":926,"v":937},{"s":"g","f":923,"v":907},{"s":"g","f":919,"v":847},{"s":"g","f":915,"v":797},{"s":"g","f":911,"v":857},{"s":"g","f":908,"v":897},{"s":"g","f":904,"v":917},{"s":"g","f":900,"v":957},{"s":"g","f":897,"v":967},{"s":"g","f":893,"v":897},{"s":"g","f":889,"v":807},{"s":"g","f":886,"v":857},{"s":"g","f":882,"v":927},{"s":"g","f":878,"v":897},{"s":"g","f":875,"v":897},{"s":"g","f":871,"v":917},{"s":"g","f":867,"v":927},{"s":"g","f":864,"v":887},{"s":"g","f":860,"v":907},{"s":"g","f":857,"v":897},{"s":"g","f":854,"v":902},
{"s":"r","f":2279,"v":199},{"s":"r","f":2267,"v":199},{"s":"r","f":2264,"v":217},{"s":"r","f":2261,"v":235},{"s":"r","f":2257,"v":217},{"s":"r","f":2253,"v":207},{"s":"r","f":2250,"v":227},{"s":"r","f":2246,"v":212},{"s":"r","f":2242,"v":242},{"s":"r","f":2239,"v":232},{"s":"r","f":2235,"v":159},{"s":"r","f":2231,"v":187},{"s":"r","f":2228,"v":217},{"s":"r","f":2224,"v":202},{"s":"r","f":2220,"v":187},{"s":"r","f":2216,"v":197},{"s":"r","f":2213,"v":207},{"s":"r","f":2209,"v":197},{"s":"r","f":2205,"v":212},{"s":"r","f":2202,"v":217},{"s":"r","f":2198,"v":257},{"s":"r","f":2194,"v":279},{"s":"r","f":2191,"v":272},{"s":"r","f":2187,"v":237},{"s":"r","f":2183,"v":152},{"s":"r","f":2180,"v":187},{"s":"r","f":2176,"v":217},{"s":"r","f":2172,"v":247},{"s":"r","f":2169,"v":217},{"s":"r","f":2165,"v":187},{"s":"r","f":2161,"v":237},{"s":"r","f":2158,"v":207},{"s":"r","f":2154,"v":177},{"s":"r","f":2150,"v":137},{"s":"r","f":2146,"v":167},{"s":"r","f":2143,"v":197},{"s":"r","f":2139,"v":227},{"s":"r","f":2135,"v":247},{"s":"r","f":2132,"v":262},{"s":"r","f":2128,"v":237},{"s":"r","f":2124,"v":217},{"s":"r","f":2121,"v":187},{"s":"r","f":2117,"v":177},{"s":"r","f":2113,"v":207},{"s":"r","f":2110,"v":217},{"s":"r","f":2106,"v":192},{"s":"r","f":2102,"v":217},{"s":"r","f":2099,"v":257},{"s":"r","f":2095,"v":269},{"s":"r","f":2091,"v":247},{"s":"r","f":2087,"v":207},{"s":"r","f":2084,"v":187},{"s":"r","f":2080,"v":202},{"s":"r","f":2076,"v":187},{"s":"r","f":2073,"v":172},{"s":"r","f":2069,"v":187},{"s":"r","f":2065,"v":217},{"s":"r","f":2062,"v":197},{"s":"r","f":2058,"v":177},{"s":"r","f":2054,"v":197},{"s":"r","f":2051,"v":192},{"s":"r","f":2047,"v":207},{"s":"r","f":2043,"v":197},{"s":"r","f":2040,"v":207},{"s":"r","f":2036,"v":217},{"s":"r","f":2032,"v":227},{"s":"r","f":2028,"v":232},{"s":"r","f":2025,"v":217},{"s":"r","f":2021,"v":197},{"s":"r","f":2017,"v":187},{"s":"r","f":2014,"v":167},{"s":"r","f":2010,"v":137},{"s":"r","f":2006,"v":157},{"s":"r","f":2003,"v":187},{"s":"r","f":1999,"v":237},{"s":"r","f":1995,"v":257},{"s":"r","f":1992,"v":227},{"s":"r","f":1988,"v":207},{"s":"r","f":1984,"v":247},{"s":"r","f":1981,"v":227},{"s":"r","f":1977,"v":202},{"s":"r","f":1973,"v":257},{"s":"r","f":1970,"v":237},{"s":"r","f":1966,"v":217},{"s":"r","f":1962,"v":202},{"s":"r","f":1958,"v":197},{"s":"r","f":1955,"v":202},{"s":"r","f":1951,"v":217},{"s":"r","f":1947,"v":227},{"s":"r","f":1944,"v":217},{"s":"r","f":1940,"v":202},{"s":"r","f":1936,"v":197},{"s":"r","f":1933,"v":192},{"s":"r","f":1929,"v":207},{"s":"r","f":1925,"v":192},{"s":"r","f":1922,"v":187},{"s":"r","f":1918,"v":192},{"s":"r","f":1914,"v":202},{"s":"r","f":1911,"v":227},{"s":"r","f":1907,"v":257},{"s":"r","f":1905,"v":282},{"s":"r","f":1901,"v":197},{"s":"r","f":1898,"v":137},{"s":"r","f":1894,"v":157},{"s":"r","f":1890,"v":187},{"s":"r","f":1887,"v":177},{"s":"r","f":1883,"v":157},{"s":"r","f":1879,"v":137},{"s":"r","f":1875,"v":177},{"s":"r","f":1872,"v":197},{"s":"r","f":1868,"v":227},{"s":"r","f":1864,"v":247},{"s":"r","f":1861,"v":187},{"s":"r","f":1857,"v":157},{"s":"r","f":1853,"v":167},{"s":"r","f":1850,"v":187},{"s":"r","f":1846,"v":157},{"s":"r","f":1842,"v":162},{"s":"r","f":1839,"v":187},{"s":"r","f":1835,"v":197},{"s":"r","f":1831,"v":202},{"s":"r","f":1828,"v":197},{"s":"r","f":1824,"v":192},{"s":"r","f":1820,"v":187},{"s":"r","f":1816,"v":177},{"s":"r","f":1813,"v":162},{"s":"r","f":1809,"v":177},{"s":"r","f":1805,"v":237},{"s":"r","f":1802,"v":247},{"s":"r","f":1798,"v":267},{"s":"r","f":1794,"v":307},{"s":"r","f":1791,"v":357},{"s":"r","f":1787,"v":397},{"s":"r","f":1783,"v":427},{"s":"r","f":1780,"v":445},{"s":"r","f":1776,"v":432},{"s":"r","f":1772,"v":407},{"s":"r","f":1769,"v":367},{"s":"r","f":1765,"v":297},{"s":"r","f":1761,"v":262},{"s":"r","f":1758,"v":237},{"s":"r","f":1754,"v":202},{"s":"r","f":1750,"v":262},{"s":"r","f":1746,"v":257},{"s":"r","f":1743,"v":202},{"s":"r","f":1739,"v":217},{"s":"r","f":1735,"v":227},{"s":"r","f":1732,"v":217},{"s":"r","f":1728,"v":222},{"s":"r","f":1724,"v":212},{"s":"r","f":1721,"v":227},{"s":"r","f":1717,"v":197},{"s":"r","f":1713,"v":177},{"s":"r","f":1710,"v":187},{"s":"r","f":1706,"v":227},{"s":"r","f":1702,"v":242},{"s":"r","f":1699,"v":217},{"s":"r","f":1695,"v":187},{"s":"r","f":1691,"v":177},{"s":"r","f":1688,"v":167},{"s":"r","f":1684,"v":197},{"s":"r","f":1680,"v":227},{"s":"r","f":1676,"v":232},{"s":"r","f":1673,"v":207},{"s":"r","f":1669,"v":167},{"s":"r","f":1665,"v":137},{"s":"r","f":1662,"v":157},{"s":"r","f":1658,"v":197},{"s":"r","f":1654,"v":217},{"s":"r","f":1651,"v":237},{"s":"r","f":1647,"v":242},{"s":"r","f":1643,"v":217},{"s":"r","f":1640,"v":197},{"s":"r","f":1636,"v":207},{"s":"r","f":1632,"v":217},{"s":"r","f":1629,"v":227},{"s":"r","f":1625,"v":207},{"s":"r","f":1621,"v":217},{"s":"r","f":1617,"v":232},{"s":"r","f":1614,"v":207},{"s":"r","f":1610,"v":227},{"s":"r","f":1606,"v":187},{"s":"r","f":1603,"v":137},{"s":"r","f":1599,"v":117},{"s":"r","f":1595,"v":157},{"s":"r","f":1592,"v":177},{"s":"r","f":1588,"v":197},{"s":"r","f":1584,"v":202},{"s":"r","f":1581,"v":207},{"s":"r","f":1577,"v":197},{"s":"r","f":1573,"v":212},{"s":"r","f":1570,"v":207},{"s":"r","f":1566,"v":217},{"s":"r","f":1562,"v":247},{"s":"r","f":1558,"v":227},{"s":"r","f":1555,"v":187},{"s":"r","f":1551,"v":167},{"s":"r","f":1547,"v":177},{"s":"r","f":1544,"v":197},{"s":"r","f":1540,"v":207},{"s":"r","f":1536,"v":217},{"s":"r","f":1533,"v":227},{"s":"r","f":1529,"v":222},{"s":"r","f":1525,"v":227},{"s":"r","f":1522,"v":217},{"s":"r","f":1518,"v":222},{"s":"r","f":1514,"v":227},{"s":"r","f":1511,"v":232},{"s":"r","f":1507,"v":227},{"s":"r","f":1503,"v":237},{"s":"r","f":1500,"v":242},{"s":"r","f":1496,"v":252},{"s":"r","f":1492,"v":267},{"s":"r","f":1488,"v":272},{"s":"r","f":1485,"v":257},{"s":"r","f":1481,"v":227},{"s":"r","f":1477,"v":187},{"s":"r","f":1474,"v":157},{"s":"r","f":1470,"v":167},{"s":"r","f":1466,"v":162},{"s":"r","f":1463,"v":187},{"s":"r","f":1459,"v":217},{"s":"r","f":1455,"v":242},{"s":"r","f":1452,"v":237},{"s":"r","f":1448,"v":217},{"s":"r","f":1444,"v":197},{"s":"r","f":1441,"v":187},{"s":"r","f":1437,"v":177},{"s":"r","f":1433,"v":197},{"s":"r","f":1429,"v":217},{"s":"r","f":1426,"v":237},{"s":"r","f":1422,"v":247},{"s":"r","f":1418,"v":227},{"s":"r","f":1415,"v":237},{"s":"r","f":1411,"v":217},{"s":"r","f":1407,"v":197},{"s":"r","f":1404,"v":227},{"s":"r","f":1400,"v":247},{"s":"r","f":1396,"v":257},{"s":"r","f":1393,"v":272},{"s":"r","f":1389,"v":267},{"s":"r","f":1385,"v":277},{"s":"r","f":1382,"v":262},{"s":"r","f":1378,"v":237},{"s":"r","f":1374,"v":267},{"s":"r","f":1370,"v":257},{"s":"r","f":1367,"v":237},{"s":"r","f":1363,"v":227},{"s":"r","f":1359,"v":207},{"s":"r","f":1356,"v":177},{"s":"r","f":1352,"v":167},{"s":"r","f":1348,"v":197},{"s":"r","f":1345,"v":217},{"s":"r","f":1341,"v":227},{"s":"r","f":1337,"v":257},{"s":"r","f":1335,"v":407},{"s":"r","f":1333,"v":597},{"s":"r","f":1331,"v":639},{"s":"r","f":1329,"v":597},{"s":"r","f":1326,"v":357},{"s":"r","f":1323,"v":217},{"s":"r","f":1319,"v":207},{"s":"r","f":1315,"v":227},{"s":"r","f":1311,"v":247},{"s":"r","f":1308,"v":237},{"s":"r","f":1304,"v":217},{"s":"r","f":1300,"v":227},{"s":"r","f":1297,"v":237},{"s":"r","f":1293,"v":227},{"s":"r","f":1289,"v":197},{"s":"r","f":1286,"v":157},{"s":"r","f":1282,"v":132},{"s":"r","f":1278,"v":177},{"s":"r","f":1275,"v":217},{"s":"r","f":1271,"v":257},{"s":"r","f":1267,"v":262},{"s":"r","f":1264,"v":247},{"s":"r","f":1260,"v":227},{"s":"r","f":1256,"v":217},{"s":"r","f":1253,"v":197},{"s":"r","f":1249,"v":237},{"s":"r","f":1245,"v":257},{"s":"r","f":1241,"v":277},{"s":"r","f":1238,"v":287},{"s":"r","f":1234,"v":297},{"s":"r","f":1230,"v":292},{"s":"r","f":1227,"v":267},{"s":"r","f":1223,"v":187},{"s":"r","f":1219,"v":192},{"s":"r","f":1216,"v":187},{"s":"r","f":1212,"v":177},{"s":"r","f":1208,"v":182},{"s":"r","f":1205,"v":177},{"s":"r","f":1201,"v":187},{"s":"r","f":1197,"v":172},{"s":"r","f":1194,"v":167},{"s":"r","f":1190,"v":177},{"s":"r","f":1186,"v":187},{"s":"r","f":1182,"v":167},{"s":"r","f":1179,"v":147},{"s":"r","f":1175,"v":157},{"s":"r","f":1171,"v":167},{"s":"r","f":1168,"v":147},{"s":"r","f":1164,"v":132},{"s":"r","f":1160,"v":122},{"s":"r","f":1157,"v":137},{"s":"r","f":1153,"v":157},{"s":"r","f":1149,"v":167},{"s":"r","f":1146,"v":187},{"s":"r","f":1142,"v":217},{"s":"r","f":1138,"v":227},{"s":"r","f":1135,"v":237},{"s":"r","f":1131,"v":207},{"s":"r","f":1127,"v":177},{"s":"r","f":1123,"v":167},{"s":"r","f":1120,"v":187},{"s":"r","f":1116,"v":157},{"s":"r","f":1112,"v":147},{"s":"r","f":1109,"v":177},{"s":"r","f":1105,"v":217},{"s":"r","f":1101,"v":227},{"s":"r","f":1098,"v":237},{"s":"r","f":1094,"v":217},{"s":"r","f":1090,"v":257},{"s":"r","f":1087,"v":277},{"s":"r","f":1083,"v":267},{"s":"r","f":1079,"v":237},{"s":"r","f":1076,"v":207},{"s":"r","f":1072,"v":177},{"s":"r","f":1068,"v":187},{"s":"r","f":1065,"v":217},{"s":"r","f":1061,"v":187},{"s":"r","f":1057,"v":157},{"s":"r","f":1053,"v":177},{"s":"r","f":1050,"v":197},{"s":"r","f":1046,"v":217},{"s":"r","f":1042,"v":187},{"s":"r","f":1039,"v":217},{"s":"r","f":1035,"v":197},{"s":"r","f":1031,"v":157},{"s":"r","f":1028,"v":127},{"s":"r","f":1024,"v":147},{"s":"r","f":1020,"v":157},{"s":"r","f":1017,"v":167},{"s":"r","f":1013,"v":177},{"s":"r","f":1009,"v":157},{"s":"r","f":1006,"v":147},{"s":"r","f":1002,"v":167},{"s":"r","f":998,"v":177},{"s":"r","f":994,"v":162},{"s":"r","f":991,"v":167},{"s":"r","f":987,"v":157},{"s":"r","f":983,"v":177},{"s":"r","f":980,"v":167},{"s":"r","f":976,"v":137},{"s":"r","f":972,"v":87},{"s":"r","f":969,"v":157},{"s":"r","f":965,"v":197},{"s":"r","f":961,"v":187},{"s":"r","f":958,"v":167},{"s":"r","f":954,"v":137},{"s":"r","f":950,"v":157},{"s":"r","f":947,"v":187},{"s":"r","f":943,"v":197},{"s":"r","f":939,"v":177},{"s":"r","f":935,"v":167},{"s":"r","f":932,"v":187},{"s":"r","f":928,"v":197},{"s":"r","f":924,"v":207},{"s":"r","f":921,"v":217},{"s":"r","f":917,"v":207},{"s":"r","f":913,"v":187},{"s":"r","f":910,"v":177},{"s":"r","f":906,"v":197},{"s":"r","f":902,"v":167},{"s":"r","f":899,"v":147},{"s":"r","f":895,"v":127},{"s":"r","f":891,"v":157},{"s":"r","f":888,"v":187},{"s":"r","f":884,"v":207},{"s":"r","f":880,"v":197},{"s":"r","f":877,"v":177},{"s":"r","f":873,"v":157},{"s":"r","f":869,"v":137},{"s":"r","f":865,"v":187},{"s":"r","f":862,"v":207},{"s":"r","f":858,"v":177},{"s":"r","f":854,"v":182}
],
"ta_big":[{"f":1265,"v":1230,"t":"VAM-d₀/0.1 ML"},{"f":1265,"v":1116,"t":"ethylidyne"},{"f":1277,"v":516,"t":"VAM-d₀/0.25 ML"},{"f":1277,"v":384,"t":"ethylidyne"}],
"ta_small":[{"f":2073,"v":1599,"t":"(a)"},{"f":1960,"v":1539,"t":"T=305 K"}],
"ta_peak":[{"f":1389,"v":1251,"t":"1398"},{"f":1329,"v":675,"t":"1327"},{"f":1763,"v":480,"t":"1778"}],
"tb_big":[{"f":1296,"v":1182,"t":"VAM-d₆/0.1 ML"},{"f":1296,"v":1071,"t":"ethylidyne"},{"f":1270,"v":468,"t":"VAM-d₆/0.25 ML"},{"f":1270,"v":360,"t":"ethylidyne"}],
"tb_small":[{"f":2253,"v":1413,"t":"(b)"},{"f":2134,"v":1368,"t":"T=305 K"}],
"tb_scale":[{"f":2185,"v":630,"t":"5x10⁻⁴"}],
"tb_peak":[{"f":1762,"v":498,"t":"1778"}],
"tb_bar":[{"f":2238,"v":387,"v2":879}],
"tb_edge":[{"f":2283}]
},
"concat":[
{
"width":633,"height":553,
"resolve":{"axis":{"x":"independent"}},
"layer":[
{"data":{"name":"a"},"mark":{"type":"line","strokeWidth":1.2,"clip":true},
"encoding":{
"x":{"field":"f","type":"quantitative","scale":{"domain":[2100,850],"nice":false,"zero":false},"axis":{"orient":"bottom","values":[2000,1800,1600,1400,1200,1000],"format":"d","tickSize":8,"tickWidth":1.5,"labelFontSize":18,"labelPadding":10,"labelFlush":false,"labelOverlap":false,"domain":false,"grid":false,"title":"Frequency / cm⁻¹","titleFontSize":21,"titleFontWeight":"normal","titlePadding":10}},
"y":{"field":"v","type":"quantitative","scale":{"domain":[0,1659],"nice":false,"zero":false},"axis":{"labels":false,"ticks":false,"domain":false,"grid":false,"title":null,"minExtent":4,"maxExtent":4}},
"color":{"field":"s","type":"nominal","scale":{"domain":["g","r"],"range":["#00ee00","#ff0000"]},"legend":null}}},
{"data":{"name":"ta_small"},"mark":{"type":"text","fontSize":21,"align":"left","baseline":"middle"},
"encoding":{
"x":{"field":"f","type":"quantitative","axis":{"orient":"bottom","values":[2050,1950,1900,1850,1750,1700,1650,1550,1500,1450,1350,1300,1250,1150,1100,1050,950,900],"tickSize":5,"tickWidth":1.5,"labels":false,"domain":false,"grid":false,"title":null}},
"y":{"field":"v","type":"quantitative","axis":null},"text":{"field":"t"}}},
{"data":{"name":"ta_big"},"mark":{"type":"text","fontSize":25,"align":"left","baseline":"middle"},
"encoding":{"x":{"field":"f","type":"quantitative","axis":null},"y":{"field":"v","type":"quantitative","axis":null},"text":{"field":"t"}}},
{"data":{"name":"ta_peak"},"mark":{"type":"text","fontSize":25,"align":"left","baseline":"middle","angle":270},
"encoding":{"x":{"field":"f","type":"quantitative","axis":null},"y":{"field":"v","type":"quantitative","axis":null},"text":{"field":"t"}}}
]
},
{
"width":638,"height":492,
"view":{"stroke":null},
"resolve":{"axis":{"x":"independent"}},
"layer":[
{"data":{"name":"b"},"mark":{"type":"line","strokeWidth":1.2,"clip":true},
"encoding":{
"x":{"field":"f","type":"quantitative","scale":{"domain":[2283,854],"nice":false,"zero":false},"axis":{"orient":"bottom","values":[2200,2000,1800,1600,1400,1200,1000],"format":"d","tickSize":7,"tickWidth":1.5,"labelFontSize":18,"labelPadding":9,"labelFlush":false,"labelOverlap":false,"domain":true,"domainWidth":1.5,"grid":false,"title":"Frequency / cm⁻¹","titleFontSize":20,"titleFontWeight":"normal","titlePadding":9}},
"y":{"field":"v","type":"quantitative","scale":{"domain":[0,1476],"nice":false,"zero":false},"axis":null},
"color":{"field":"s","type":"nominal","scale":{"domain":["g","r"],"range":["#00ee00","#ff0000"]},"legend":null}}},
{"data":{"name":"tb_small"},"mark":{"type":"text","fontSize":21,"align":"left","baseline":"middle"},
"encoding":{
"x":{"field":"f","type":"quantitative","axis":{"orient":"bottom","values":[2250,2150,2100,2050,1950,1900,1850,1750,1700,1650,1550,1500,1450,1350,1300,1250,1150,1100,1050,950,900],"tickSize":4.5,"tickWidth":1.5,"labels":false,"domain":false,"grid":false,"title":null}},
"y":{"field":"v","type":"quantitative","axis":null},"text":{"field":"t"}}},
{"data":{"name":"tb_scale"},"mark":{"type":"text","fontSize":21,"align":"left","baseline":"middle"},
"encoding":{"x":{"field":"f","type":"quantitative","axis":{"orient":"top","labels":false,"ticks":false,"domain":true,"domainWidth":1.5,"grid":false,"title":null,"minExtent":0,"maxExtent":0}},"y":{"field":"v","type":"quantitative","axis":null},"text":{"field":"t"}}},
{"data":{"name":"tb_big"},"mark":{"type":"text","fontSize":24,"align":"left","baseline":"middle"},
"encoding":{"x":{"field":"f","type":"quantitative","axis":null},"y":{"field":"v","type":"quantitative","axis":null},"text":{"field":"t"}}},
{"data":{"name":"tb_peak"},"mark":{"type":"text","fontSize":25,"align":"left","baseline":"middle","angle":270},
"encoding":{"x":{"field":"f","type":"quantitative","axis":null},"y":{"field":"v","type":"quantitative","axis":null},"text":{"field":"t"}}},
{"data":{"name":"tb_bar"},"mark":{"type":"rule","strokeWidth":2,"color":"#000"},
"encoding":{"x":{"field":"f","type":"quantitative","axis":null},"y":{"field":"v","type":"quantitative","axis":null},"y2":{"field":"v2"}}},
{"data":{"name":"tb_edge"},"mark":{"type":"rule","strokeWidth":1.5,"color":"#000"},
"encoding":{"x":{"field":"f","type":"quantitative","axis":null}}}
]
}
],
"columns":1,
"spacing":35,
"align":"none"
}
